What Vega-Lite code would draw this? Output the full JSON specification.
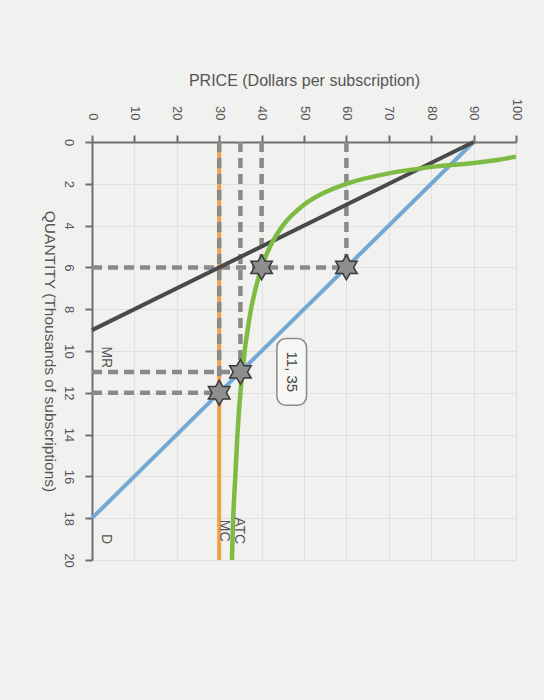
{
  "$schema": "https://vega.github.io/schema/vega-lite/v6.json",
  "width": 424,
  "height": 418,
  "autosize": {"type": "none"},
  "padding": {"left": 92, "top": 142, "right": 28, "bottom": 140},
  "background": "#f1f1ef",
  "config": {
    "view": {"stroke": null},
    "font": "Liberation Sans",
    "text": {"font": "Liberation Sans"}
  },
  "datasets": {
    "curves": [
      {"curve": "D", "q": 0, "p": 90},
      {"curve": "D", "q": 18, "p": 0},
      {"curve": "MR", "q": 0, "p": 90},
      {"curve": "MR", "q": 9, "p": 0},
      {"curve": "MC", "q": 0, "p": 30},
      {"curve": "MC", "q": 20, "p": 30},
      {"curve": "ATC", "q": 0.7, "p": 100},
      {"curve": "ATC", "q": 0.85, "p": 96},
      {"curve": "ATC", "q": 1, "p": 90},
      {"curve": "ATC", "q": 1.25, "p": 78},
      {"curve": "ATC", "q": 1.5, "p": 70},
      {"curve": "ATC", "q": 2, "p": 60},
      {"curve": "ATC", "q": 2.5, "p": 54},
      {"curve": "ATC", "q": 3, "p": 50},
      {"curve": "ATC", "q": 4, "p": 45},
      {"curve": "ATC", "q": 5, "p": 42},
      {"curve": "ATC", "q": 6, "p": 40},
      {"curve": "ATC", "q": 7, "p": 38.6},
      {"curve": "ATC", "q": 8, "p": 37.5},
      {"curve": "ATC", "q": 9, "p": 36.7},
      {"curve": "ATC", "q": 10, "p": 36},
      {"curve": "ATC", "q": 11, "p": 35.5},
      {"curve": "ATC", "q": 12, "p": 35},
      {"curve": "ATC", "q": 14, "p": 34.3},
      {"curve": "ATC", "q": 16, "p": 33.8},
      {"curve": "ATC", "q": 18, "p": 33.3},
      {"curve": "ATC", "q": 20, "p": 33}
    ],
    "guides": [
      {"q": 6, "q2": 6, "p": 0, "p2": 60},
      {"q": 11, "q2": 11, "p": 0, "p2": 35},
      {"q": 12, "q2": 12, "p": 0, "p2": 30},
      {"q": 0, "q2": 12, "p": 30, "p2": 30},
      {"q": 0, "q2": 11, "p": 35, "p2": 35},
      {"q": 0, "q2": 6, "p": 40, "p2": 40},
      {"q": 0, "q2": 6, "p": 60, "p2": 60}
    ],
    "stars": [
      {"q": 6, "p": 40},
      {"q": 6, "p": 60},
      {"q": 11, "p": 35},
      {"q": 12, "p": 30}
    ],
    "labels": [
      {"label": "MR", "q": 10.3, "p": 3.2},
      {"label": "D", "q": 19, "p": 3.2},
      {"label": "ATC", "q": 18.6, "p": 34.6},
      {"label": "MC", "q": 18.6, "p": 31.2}
    ],
    "box": [
      {"label": "11, 35", "q": 9.4, "q2": 12.6, "p": 43.6, "p2": 50.6, "qc": 11, "pc": 47.1}
    ]
  },
  "encoding": {
    "x": {
      "field": "p", "type": "quantitative",
      "scale": {"domain": [0, 100], "nice": false},
      "axis": {
        "orient": "top", "values": [0, 10, 20, 30, 40, 50, 60, 70, 80, 90, 100],
        "title": "PRICE (Dollars per subscription)",
        "titleFontSize": 16, "titleFontWeight": "normal", "titleColor": "#555",
        "titleX": 212, "titleY": -62, "titleAlign": "center", "titleBaseline": "middle",
        "labelAngle": 90, "labelAlign": "right", "labelBaseline": "middle",
        "labelFontSize": 13, "labelColor": "#555", "labelPadding": 15,
        "domainColor": "#6e6e6e", "domainWidth": 2,
        "tickColor": "#6e6e6e", "tickWidth": 2, "tickSize": 7,
        "grid": true, "gridColor": "#e0e0de"
      }
    },
    "y": {
      "field": "q", "type": "quantitative",
      "scale": {"domain": [0, 20], "reverse": true, "nice": false},
      "axis": {
        "orient": "left", "values": [0, 2, 4, 6, 8, 10, 12, 14, 16, 18, 20],
        "title": "QUANTITY (Thousands of subscriptions)",
        "titleFontSize": 15.5, "titleFontWeight": "normal", "titleColor": "#555",
        "titleX": -43, "titleY": 209, "titleAngle": 90, "titleAlign": "center", "titleBaseline": "middle",
        "labelAngle": 90, "labelAlign": "center", "labelBaseline": "top",
        "labelFontSize": 13, "labelColor": "#555", "labelPadding": 11,
        "domainColor": "#6e6e6e", "domainWidth": 2,
        "tickColor": "#6e6e6e", "tickWidth": 2, "tickSize": 7,
        "grid": true, "gridColor": "#e0e0de"
      }
    }
  },
  "layer": [
    {
      "data": {"name": "curves"},
      "transform": [{"filter": "datum.curve === 'MC'"}],
      "mark": {"type": "line", "color": "#f0a04b", "strokeWidth": 4},
      "encoding": {"order": {"field": "q"}}
    },
    {
      "data": {"name": "guides"},
      "mark": {"type": "rule", "color": "#8a8a88", "strokeWidth": 4.5, "strokeDash": [10, 6]},
      "encoding": {"x2": {"field": "p2"}, "y2": {"field": "q2"}}
    },
    {
      "data": {"name": "curves"},
      "transform": [{"filter": "datum.curve === 'D'"}],
      "mark": {"type": "line", "color": "#72a9d4", "strokeWidth": 4},
      "encoding": {"order": {"field": "q"}}
    },
    {
      "data": {"name": "curves"},
      "transform": [{"filter": "datum.curve === 'MR'"}],
      "mark": {"type": "line", "color": "#4a4a4a", "strokeWidth": 4},
      "encoding": {"order": {"field": "q"}}
    },
    {
      "data": {"name": "curves"},
      "transform": [{"filter": "datum.curve === 'ATC'"}],
      "mark": {"type": "line", "color": "#7dbb45", "strokeWidth": 4.5, "interpolate": "monotone"},
      "encoding": {"order": {"field": "q"}}
    },
    {
      "data": {"name": "stars"},
      "mark": {
        "type": "point", "filled": true, "size": 620, "fill": "#8e8e8e", "stroke": "#3a3a3a", "strokeWidth": 1.5, "opacity": 1,
        "shape": "M0,-1L0.289,-0.5L0.866,-0.5L0.577,0L0.866,0.5L0.289,0.5L0,1L-0.289,0.5L-0.866,0.5L-0.577,0L-0.866,-0.5L-0.289,-0.5Z"
      }
    },
    {
      "data": {"name": "labels"},
      "mark": {"type": "text", "angle": 90, "align": "center", "baseline": "middle", "fontSize": 14, "color": "#555"},
      "encoding": {"text": {"field": "label"}}
    },
    {
      "data": {"name": "box"},
      "mark": {"type": "rect", "fill": "#f7f7f5", "stroke": "#8a8a8a", "strokeWidth": 1.5, "cornerRadius": 9},
      "encoding": {"x2": {"field": "p2"}, "y2": {"field": "q2"}}
    },
    {
      "data": {"name": "box"},
      "mark": {"type": "text", "angle": 90, "align": "center", "baseline": "middle", "fontSize": 15, "color": "#444"},
      "encoding": {"x": {"field": "pc", "type": "quantitative"}, "y": {"field": "qc", "type": "quantitative"}, "text": {"field": "label"}}
    }
  ]
}
